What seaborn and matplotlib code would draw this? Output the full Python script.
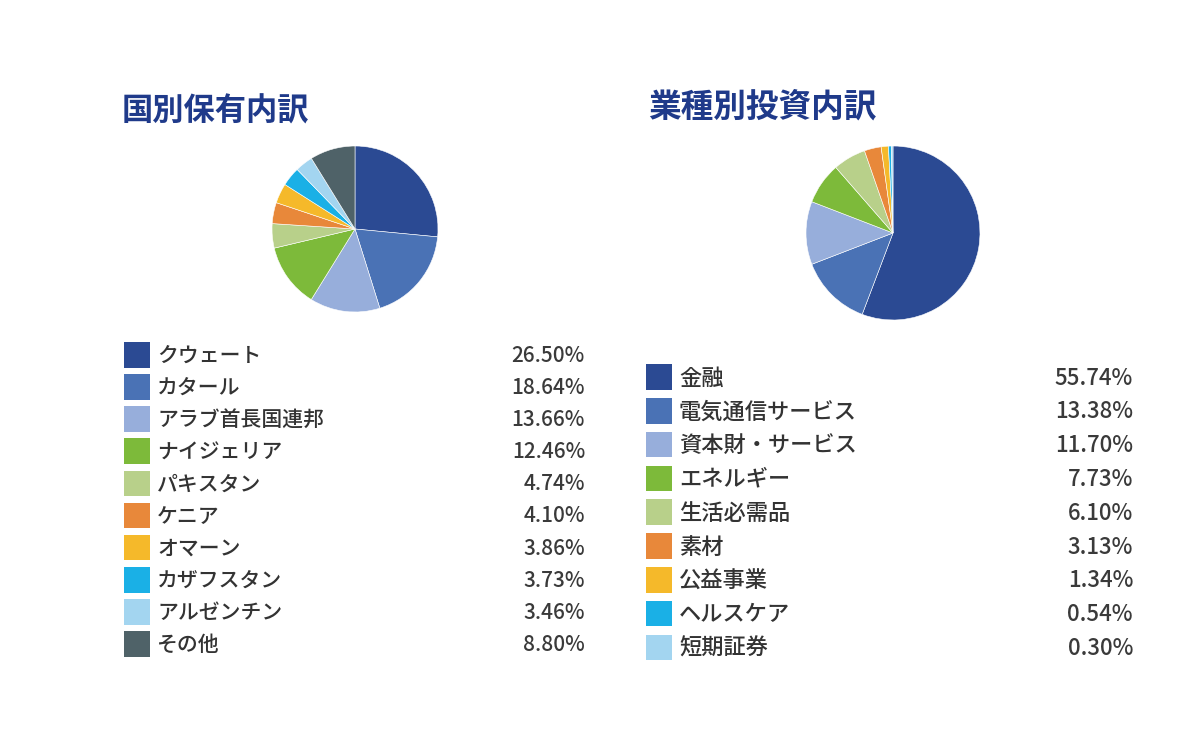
import matplotlib
matplotlib.use('Agg')
import matplotlib.pyplot as plt
import seaborn as sns

# 国別保有内訳
country_labels = ['クウェート', 'カタール', 'アラブ首長国連邦', 'ナイジェリア', 'パキスタン',
                  'ケニア', 'オマーン', 'カザフスタン', 'アルゼンチン', 'その他']
country_values = [26.50, 18.64, 13.66, 12.46, 4.74, 4.10, 3.86, 3.73, 3.46, 8.80]

# 業種別投資内訳
sector_labels = ['金融', '電気通信サービス', '資本財・サービス', 'エネルギー', '生活必需品',
                 '素材', '公益事業', 'ヘルスケア', '短期証券']
sector_values = [55.74, 13.38, 11.70, 7.73, 6.10, 3.13, 1.34, 0.54, 0.30]

colors = ['#2b4a93', '#4a72b5', '#97aedb', '#7dba3a', '#b8d08a',
          '#e8883a', '#f5b92a', '#1ab0e6', '#a3d5f0', '#4f6268']

sns.set_theme(style='white')
plt.rcParams['font.family'] = ['Noto Sans CJK JP', 'DejaVu Sans']

W, H = 1200, 729
fig = plt.figure(figsize=(12, 7.29), dpi=100)
fig.patch.set_facecolor('white')

# full-figure axes in pixel units for titles and legends
bg = fig.add_axes([0, 0, 1, 1])
bg.set_xlim(0, W)
bg.set_ylim(H, 0)
bg.axis('off')


def draw_pie(cx, cy, r, values, cols):
    ax = fig.add_axes([(cx - r) / W, 1 - (cy + r) / H, 2 * r / W, 2 * r / H])
    ax.pie(values, colors=cols, startangle=90, counterclock=False,
           wedgeprops=dict(edgecolor='white', linewidth=0.4))
    ax.set_xlim(-1, 1)
    ax.set_ylim(-1, 1)
    ax.axis('off')


def draw_legend(labels, values, cols, sq_x, txt_x, pct_x, y0, step, fs):
    ys = [y0 + i * step for i in range(len(labels))]
    bg.scatter([sq_x] * len(labels), ys, marker='s', s=340, c=cols[:len(labels)],
               linewidths=0)
    for lab, val, y in zip(labels, values, ys):
        bg.text(txt_x, y + 1, lab, fontsize=fs, fontweight='medium', color='#333333',
                va='center', ha='left')
        bg.text(pct_x, y + 1, f'{val:.2f}%', fontsize=fs, fontweight='medium',
                color='#3a3a3a', va='center', ha='right')


bg.text(122, 112, '国別保有内訳', fontsize=22.5, fontweight='bold',
        color='#1f3a8a', va='center', ha='left')
bg.text(648, 107, '業種別投資内訳', fontsize=23.5, fontweight='bold',
        color='#1f3a8a', va='center', ha='left')

draw_pie(355, 229, 83, country_values, colors)
draw_pie(893, 233, 87, sector_values, colors[:len(sector_values)])

draw_legend(country_labels, country_values, colors, 137, 157, 585, 355, 32.1, 15)
draw_legend(sector_labels, sector_values, colors, 659, 679, 1133, 377, 33.8, 16)

fig.savefig('out.png', dpi=100, facecolor='white')
